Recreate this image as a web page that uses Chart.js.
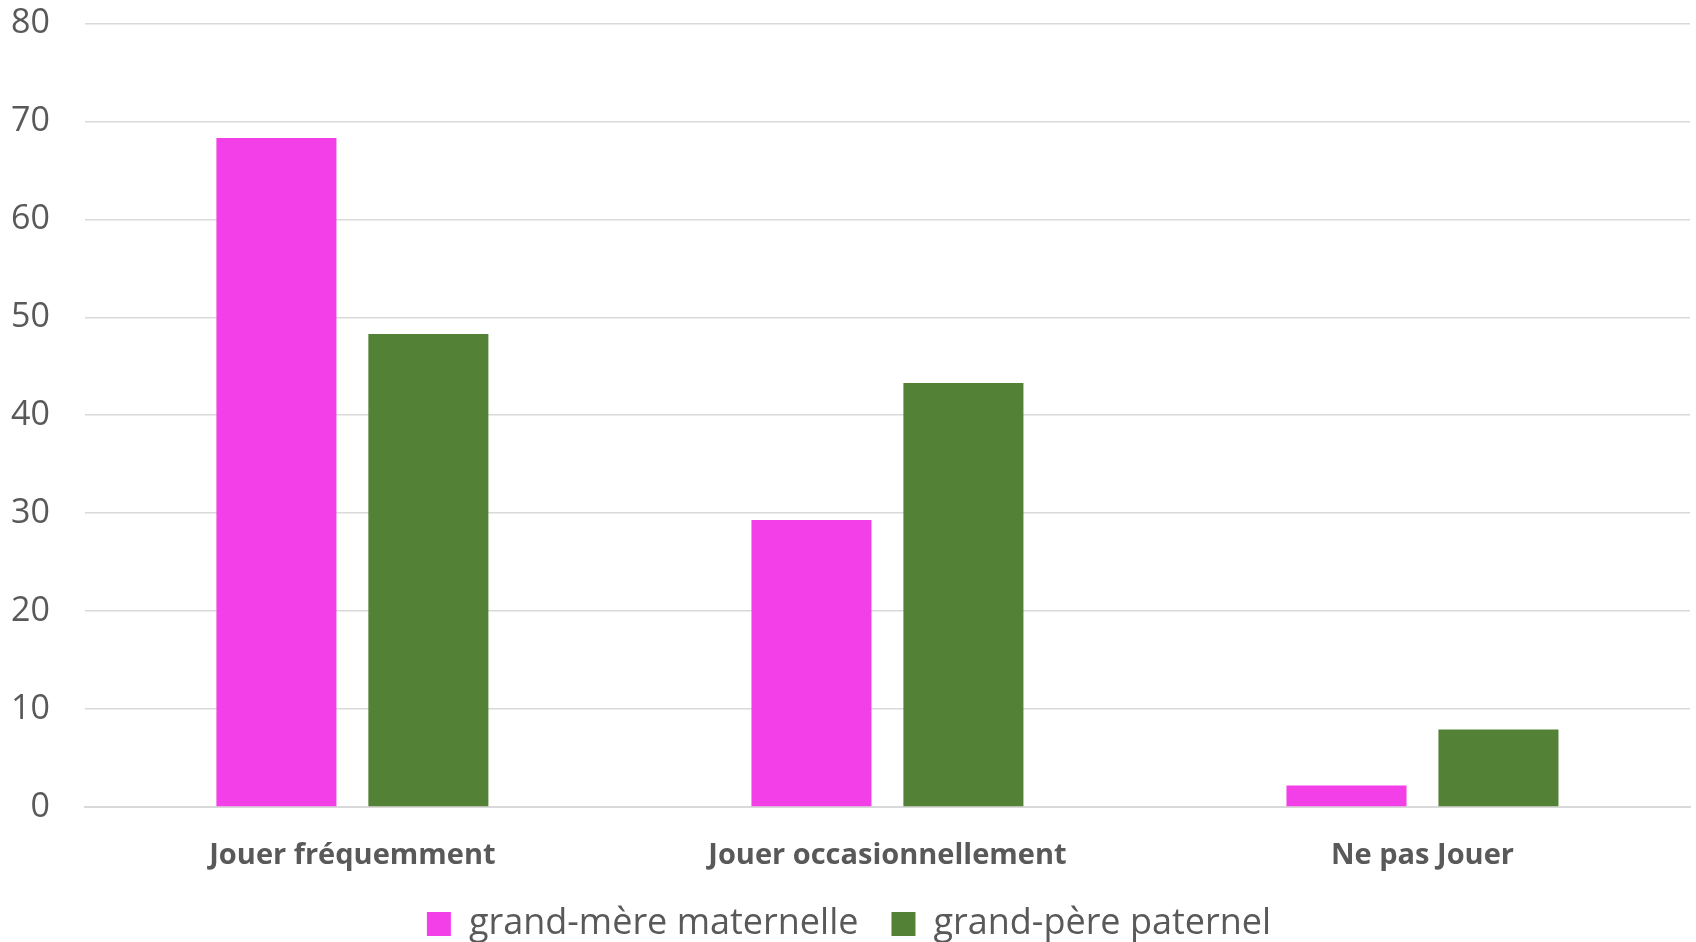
<!DOCTYPE html>
<html lang="fr">
<head>
  <meta charset="UTF-8">
  <title>Jouer avec les grands-parents</title>
  <script src="https://cdn.jsdelivr.net/npm/chart.js"></script>
  <style>
    html, body { margin: 0; padding: 0; background: #fff; }
    #wrap { width: 1696px; height: 942px; }
  </style>
</head>
<body>
  <div id="wrap"><canvas id="chart" width="1696" height="942"></canvas></div>
  <script>
    const categories = ['Jouer fréquemment', 'Jouer occasionnellement', 'Ne pas Jouer'];
    const grandMere = [68.3, 29.3, 2.2];
    const grandPere = [48.3, 43.3, 7.9];
    const seriesNames = ['grand-mère maternelle', 'grand-père paternel'];
    const yTicks = [0, 10, 20, 30, 40, 50, 60, 70, 80];

    const grey = '#595959';
    const font = '"Open Sans", "Noto Sans", sans-serif';

    new Chart(document.getElementById('chart'), {
      type: 'bar',
      data: {
        labels: categories,
        datasets: [
          { label: seriesNames[0], data: grandMere, backgroundColor: '#F33FE8' },
          { label: seriesNames[1], data: grandPere, backgroundColor: '#538135' }
        ]
      },
      options: {
        responsive: false,
        animation: false,
        layout: { padding: { top: 0, right: 6, left: 8, bottom: -10 } },
        datasets: { bar: { categoryPercentage: 0.568, barPercentage: 0.79 } },
        scales: {
          x: {
            grid: { display: false, drawTicks: false },
            border: { display: true, color: '#d9d9d9', width: 2 },
            ticks: { color: grey, padding: 31, font: { family: font, size: 29, weight: 'bold' } },
            afterFit: axis => { axis.height = 66; }
          },
          y: {
            min: yTicks[0],
            max: yTicks[yTicks.length - 1],
            afterBuildTicks: axis => { axis.ticks = yTicks.map(v => ({ value: v })); },
            // transparent tick marks give the gap between the labels and the plot
            grid: { color: '#d9d9d9', lineWidth: 1.5, drawTicks: true, tickLength: 32, tickColor: 'transparent' },
            border: { display: false },
            ticks: { color: grey, padding: 3, font: { family: font, size: 34 } }
          }
        },
        plugins: {
          legend: {
            position: 'bottom',
            labels: {
              color: grey,
              boxWidth: 24,
              boxHeight: 24,
              padding: 33,
              font: { family: font, size: 36 }
            }
          },
          tooltip: { enabled: false }
        }
      }
    });
  </script>
</body>
</html>
